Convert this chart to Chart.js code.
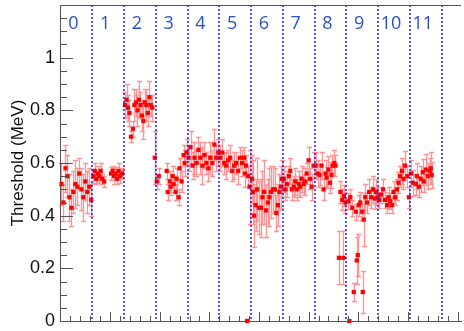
<!DOCTYPE html>
<html>
<head>
<meta charset="utf-8">
<script src="https://cdn.jsdelivr.net/npm/chart.js@4/dist/chart.umd.min.js"></script>
<style>
  html, body { margin: 0; padding: 0; background: #fff; overflow: hidden; }
  canvas { display: block; }
</style>
</head>
<body>
<canvas id="chart1" width="464" height="331"></canvas>
<script>
// Readout sections, 64 channels each
const sections = ['0', '1', '2', '3', '4', '5', '6', '7', '8', '9', '10', '11'];
const sectionSize = 64;

// Channel number of each measured point
const channel = [
  2, 6, 10, 14, 18, 22, 26, 30, 34, 38, 42, 46, 50, 54, 58, 62,
  66, 69, 72, 75, 78, 81, 84, 88, 102, 105, 108, 111, 114, 117, 120, 124,
  130, 133, 136, 139, 142, 146, 149, 152, 155, 158, 161, 164, 167, 170, 173, 176, 179, 182, 185, 190,
  194, 198, 214, 216, 220, 222, 226, 228, 232, 234, 238, 240, 244, 248, 250, 254,
  258, 262, 266, 270, 274, 278, 282, 286, 290, 294, 298, 302, 306, 310, 314, 318,
  322, 326, 330, 334, 338, 342, 346, 350, 354, 358, 362, 366, 370, 372, 374, 376, 378, 381,
  386, 388, 390, 393, 396, 400, 404, 407, 410, 414, 418, 421, 424, 428, 432, 435, 438, 441, 444, 446,
  450, 453, 456, 460, 463, 466, 470, 473, 476, 480, 483, 486, 490, 493, 496, 500, 503, 506, 510,
  514, 518, 522, 526, 530, 534, 536, 540, 543, 546, 548, 552, 554, 561, 564, 568, 570, 571, 574,
  580, 582, 584, 588, 591, 595, 597, 599, 601, 604, 608, 609, 611, 614, 618, 622, 626, 630, 633, 636, 639,
  642, 646, 650, 654, 658, 661, 664, 668, 671, 674, 678, 681, 684, 688, 691, 694, 699, 702,
  706, 710, 716, 718, 722, 726, 730, 732, 736, 740, 744, 746, 748
];

// Fitted threshold (MeV)
const threshold = [
  0.52, 0.45, 0.58, 0.55, 0.47, 0.43, 0.49, 0.52, 0.51, 0.56, 0.50, 0.47, 0.53, 0.49, 0.51, 0.46,
  0.55, 0.57, 0.54, 0.56, 0.55, 0.57, 0.54, 0.53, 0.56, 0.57, 0.55, 0.56, 0.54, 0.57, 0.55, 0.56,
  0.82, 0.84, 0.81, 0.79, 0.70, 0.73, 0.82, 0.83, 0.80, 0.84, 0.82, 0.78, 0.76, 0.83, 0.82, 0.79, 0.85, 0.82, 0.81, 0.62,
  0.53, 0.55, 0.57, 0.49, 0.53, 0.51, 0.55, 0.52, 0.49, 0.54, 0.47, 0.58, 0.53, 0.63, 0.60, 0.64,
  0.62, 0.66, 0.59, 0.62, 0.60, 0.65, 0.62, 0.59, 0.63, 0.60, 0.58, 0.62, 0.60, 0.67, 0.62, 0.64,
  0.62, 0.64, 0.60, 0.59, 0.61, 0.62, 0.57, 0.59, 0.60, 0.57, 0.62, 0.60, 0.62, 0.56, 0.59, 0, 0.55, 0.51,
  0.54, 0.49, 0.40, 0.44, 0.50, 0.43, 0.43, 0.47, 0.49, 0.42, 0.45, 0.47, 0.49, 0.50, 0.50, 0.41, 0.44, 0.49, 0.51, 0.54,
  0.54, 0.50, 0.52, 0.55, 0.57, 0.50, 0.51, 0.53, 0.50, 0.52, 0.51, 0.54, 0.52, 0.53, 0.56, 0.61, 0.54, 0.51, 0.59,
  0.59, 0.56, 0.555, 0.59, 0.50, 0.56, 0.545, 0.575, 0.525, 0.555, 0.59, 0.60, 0.59, 0.24, 0.49, 0.46, 0.24, 0.475, 0.45,
  0.455, 0, 0.47, 0.43, 0.11, 0.415, 0.23, 0.25, 0.44, 0.45, 0.415, 0.11, 0.385, 0.47, 0.45, 0.49, 0.47, 0.50, 0.465, 0.49, 0.47,
  0.46, 0.48, 0.50, 0.46, 0.44, 0.47, 0.455, 0.44, 0.49, 0.47, 0.50, 0.525, 0.55, 0.57, 0.54, 0.59, 0.55, 0.47,
  0.56, 0.525, 0.52, 0.55, 0.51, 0.54, 0.565, 0.53, 0.575, 0.55, 0.57, 0.58, 0.555
];

// Symmetric error on the threshold (MeV)
const thresholdErr = [
  0.08, 0.07, 0.09, 0.08, 0.09, 0.07, 0.08, 0.09, 0.07, 0.06, 0.08, 0.09, 0.07, 0.08, 0.07, 0.06,
  0.025, 0.03, 0.02, 0.03, 0.025, 0.03, 0.02, 0.02, 0.025, 0.02, 0.03, 0.025, 0.02, 0.03, 0.025, 0.02,
  0.05, 0.06, 0.05, 0.05, 0.02, 0.03, 0.06, 0.05, 0.06, 0.07, 0.05, 0.06, 0.07, 0.05, 0.06, 0.05, 0.06, 0.04, 0.05, 0.10,
  0.03, 0.03, 0.03, 0.03, 0.04, 0.03, 0.04, 0.03, 0.03, 0.04, 0.03, 0.04, 0.04, 0.04, 0.05, 0.05,
  0.05, 0.06, 0.05, 0.06, 0.05, 0.05, 0.06, 0.07, 0.05, 0.04, 0.05, 0.06, 0.05, 0.06, 0.05, 0.05,
  0.05, 0.05, 0.04, 0.05, 0.04, 0.05, 0.04, 0.05, 0.04, 0.05, 0.04, 0.05, 0.04, 0.05, 0.04, 0, 0.04, 0.14,
  0.09, 0.12, 0.12, 0.10, 0.12, 0.10, 0.11, 0.10, 0.12, 0.10, 0.09, 0.11, 0.10, 0.09, 0.08, 0.07, 0.08, 0.07, 0.08, 0.07,
  0.05, 0.04, 0.05, 0.04, 0.05, 0.04, 0.04, 0.05, 0.04, 0.05, 0.04, 0.05, 0.04, 0.05, 0.04, 0.05, 0.04, 0.05, 0.05,
  0.05, 0.05, 0.04, 0.05, 0.04, 0.05, 0.04, 0.05, 0.04, 0.05, 0.04, 0.05, 0.04, 0.10, 0.04, 0.04, 0.10, 0.04, 0.04,
  0.03, 0, 0.03, 0.03, 0.035, 0.03, 0.09, 0.08, 0.04, 0.04, 0.03, 0.08, 0.10, 0.05, 0.04, 0.05, 0.04, 0.05, 0.04, 0.05, 0.04,
  0.03, 0.03, 0.04, 0.03, 0.03, 0.04, 0.03, 0.03, 0.04, 0.03, 0.04, 0.04, 0.04, 0.05, 0.04, 0.055, 0.04, 0.04,
  0.05, 0.05, 0.04, 0.05, 0.04, 0.05, 0.05, 0.04, 0.06, 0.05, 0.05, 0.06, 0.05
];

const axisColor = '#555';
const textFont = '"Liberation Sans", Arial, sans-serif';

// white page behind the canvas
const background = {
  id: 'background',
  beforeDraw(chart) {
    const { ctx } = chart;
    ctx.save();
    ctx.fillStyle = '#fff';
    ctx.fillRect(0, 0, chart.width, chart.height);
    ctx.restore();
  }
};

// vertical error bars with small caps
const errorBars = {
  id: 'errorBars',
  beforeDatasetsDraw(chart) {
    const { ctx, scales: { x, y } } = chart;
    ctx.save();
    ctx.strokeStyle = 'rgba(255, 40, 40, 0.5)';
    ctx.lineWidth = 1.3;
    ctx.beginPath();
    channel.forEach((c, i) => {
      const e = thresholdErr[i];
      if (!e) return;
      const px = Math.round(x.getPixelForValue(c)) + 0.5;
      const top = Math.round(y.getPixelForValue(threshold[i] + e)) + 0.5;
      const bot = Math.round(y.getPixelForValue(threshold[i] - e)) + 0.5;
      ctx.moveTo(px, top); ctx.lineTo(px, bot);
      ctx.moveTo(px - 2.5, top); ctx.lineTo(px + 2.5, top);
      ctx.moveTo(px - 2.5, bot); ctx.lineTo(px + 2.5, bot);
    });
    ctx.stroke();
    ctx.restore();
  }
};

// dotted section boundaries and section numbers
const sectionMarks = {
  id: 'sectionMarks',
  afterDatasetsDraw(chart) {
    const { ctx, chartArea: a, scales: { x } } = chart;
    ctx.save();
    ctx.strokeStyle = '#1a1aff';
    ctx.lineWidth = 1.5;
    ctx.setLineDash([2, 2]);
    ctx.beginPath();
    for (let k = 1; k <= sections.length; k++) {
      const px = Math.round(x.getPixelForValue(k * sectionSize));
      ctx.moveTo(px, a.top);
      ctx.lineTo(px, a.bottom);
    }
    ctx.stroke();
    ctx.setLineDash([]);
    ctx.fillStyle = '#2b4fcc';
    ctx.font = '18px "Open Sans", sans-serif';
    ctx.textAlign = 'center';
    ctx.textBaseline = 'middle';
    sections.forEach((s, k) => {
      const px = x.getPixelForValue((k + 0.5) * sectionSize) - 3;
      ctx.fillText(s, px, a.top + 19);
    });
    ctx.restore();
  }
};

// top frame line and inward tick marks
const frame = {
  id: 'frame',
  afterDraw(chart) {
    const { ctx, chartArea: a, scales: { x, y } } = chart;
    ctx.save();
    ctx.strokeStyle = axisColor;
    ctx.lineWidth = 1;
    ctx.beginPath();
    ctx.moveTo(a.left, a.top + 0.5);
    ctx.lineTo(a.right, a.top + 0.5);
    for (let k = 0; k <= 24; k++) {
      const py = Math.round(y.getPixelForValue(k * 0.05)) + 0.5;
      const len = k % 4 === 0 ? 13 : 7;
      ctx.moveTo(a.left, py);
      ctx.lineTo(a.left + len, py);
    }
    for (let c = 0; c <= x.max; c += 20) {
      const px = Math.round(x.getPixelForValue(c)) + 0.5;
      const len = c % 100 === 0 ? 9 : 5;
      ctx.moveTo(px, a.bottom);
      ctx.lineTo(px, a.bottom - len);
    }
    ctx.stroke();
    ctx.restore();
  }
};

const data = {
  datasets: [{
    label: 'Threshold',
    data: channel.map((c, i) => ({ x: c, y: threshold[i] })),
    backgroundColor: '#ff0000',
    borderColor: '#ff0000',
    borderWidth: 0,
    pointStyle: 'rect',
    pointRadius: 3,
    pointHoverRadius: 3,
    clip: false
  }]
};

const options = {
  responsive: false,
  animation: false,
  devicePixelRatio: 1,
  layout: { padding: { top: 5, bottom: 10, left: 0, right: 0 } },
  plugins: {
    legend: { display: false },
    tooltip: { enabled: false }
  },
  scales: {
    x: {
      type: 'linear',
      min: -1,
      max: 807,
      grid: { display: false, drawTicks: false },
      ticks: { display: false },
      border: { display: true, color: axisColor, width: 1 }
    },
    y: {
      min: 0,
      max: 1.2,
      grid: { display: false, drawTicks: false },
      border: { display: true, color: axisColor, width: 1 },
      ticks: {
        stepSize: 0.2,
        padding: 5,
        color: '#111',
        font: { family: textFont, size: 18 },
        callback: (v) => (v > 1.05 ? '' : String(+v.toFixed(1)))
      },
      title: {
        display: true,
        text: 'Threshold (MeV)',
        color: '#111',
        font: { family: textFont, size: 17 },
        padding: { top: 8, bottom: 0 }
      },
      afterFit(scale) {
        scale.width = 60;
        scale.paddingTop = 0;
        scale.paddingBottom = 0;
      }
    }
  }
};

const ctx = document.getElementById('chart1').getContext('2d');
const myChart = new Chart(ctx, {
  type: 'scatter',
  data: data,
  options: options,
  plugins: [background, errorBars, sectionMarks, frame]
});
</script>
</body>
</html>
